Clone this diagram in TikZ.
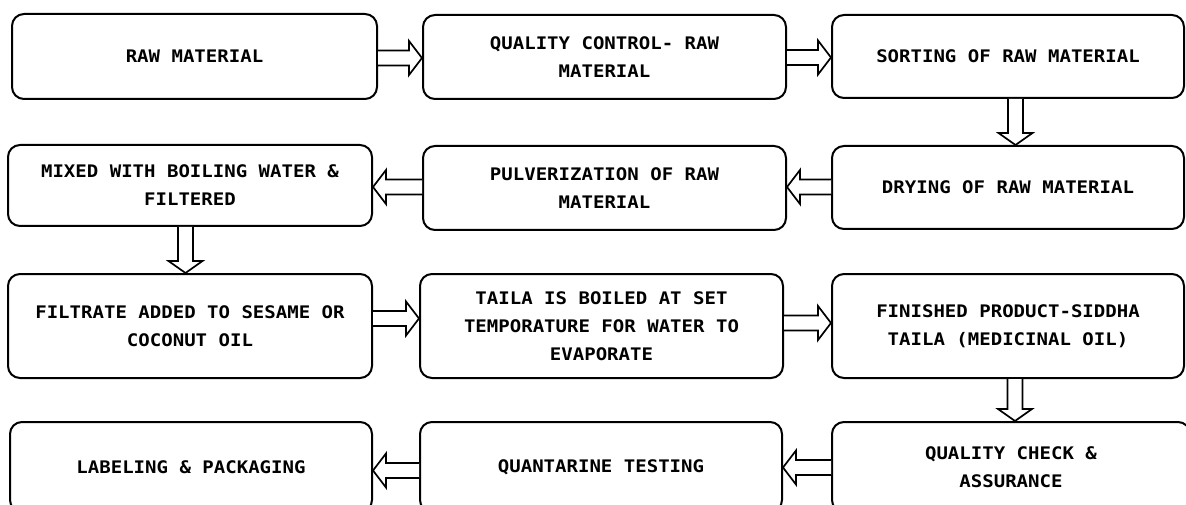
\documentclass[tikz,border=0pt]{standalone}
\usepackage{fontspec}
\newfontfamily\boxfont{DejaVu Sans Mono}[FakeStretch=1.1]
\usetikzlibrary{calc}
\tikzset{
  box/.style={draw=black, line width=2pt, rounded corners=12pt, fill=white,
    align=center, inner sep=0pt,
    font=\boxfont\bfseries\fontsize{17.3}{28}\selectfont},
  blk/.style={draw=black, fill=white, line width=1.7pt, line join=miter}
}
% horizontal block arrow: from anchor, to anchor, y, direction (+1 right, -1 left)
\newcommand{\harr}[4]{%
  \coordinate (tmpy) at (0,#3);
  \path (#1 |- tmpy) coordinate (S) (#2 |- tmpy) coordinate (T);
  \draw[blk] ($(S)+(0,-7.5)$) -- ($(T)+({-13*#4},-7.5)$) -- ($(T)+({-13*#4},-17)$)
    -- (T) -- ($(T)+({-13*#4},17)$) -- ($(T)+({-13*#4},7.5)$) -- ($(S)+(0,7.5)$);}
% vertical block arrow (downwards): from node, to node, x
\newcommand{\varr}[3]{%
  \coordinate (tmpx) at (#3,0);
  \path (tmpx |- #1.south) coordinate (S) (tmpx |- #2.north) coordinate (T);
  \draw[blk] ($(S)+(-7.5,0)$) -- ($(T)+(-7.5,-12)$) -- ($(T)+(-17,-12)$)
    -- (T) -- ($(T)+(17,-12)$) -- ($(T)+(7.5,-12)$) -- ($(S)+(7.5,0)$);}
\begin{document}
\begin{tikzpicture}[x=1pt,y=-1pt]
\useasboundingbox (0,0) rectangle (1186,505);
\clip (0,0) rectangle (1186,505);
% row 1
\node[box, minimum width=365pt, minimum height=85pt] (n1) at (194.5,56.5) {RAW MATERIAL};
\node[box, minimum width=363pt, minimum height=84pt] (n2) at (604.5,57) {QUALITY CONTROL- RAW\\MATERIAL};
\node[box, minimum width=352pt, minimum height=83pt] (n3) at (1008,56.5) {SORTING OF RAW MATERIAL};
% row 2
\node[box, minimum width=352pt, minimum height=83pt] (n4) at (1008,187.5) {DRYING OF RAW MATERIAL};
\node[box, minimum width=363pt, minimum height=84pt] (n5) at (604.5,188) {PULVERIZATION OF RAW\\MATERIAL};
\node[box, minimum width=364pt, minimum height=81pt] (n6) at (190,185.5) {MIXED WITH BOILING WATER \&\\FILTERED};
% row 3
\node[box, minimum width=364pt, minimum height=104pt] (n7) at (190,326) {FILTRATE ADDED TO SESAME OR\\COCONUT OIL};
\node[box, minimum width=363pt, minimum height=104pt] (n8) at (601.5,326) {TAILA IS BOILED AT SET\\TEMPORATURE FOR WATER TO\\EVAPORATE};
\node[box, minimum width=352pt, minimum height=104pt] (n9) at (1008,326) {FINISHED PRODUCT-SIDDHA\\TAILA (MEDICINAL OIL)};
% row 4
\node[box, minimum width=358pt, minimum height=90pt] (n10) at (1011,467) {\fontsize{17.3}{24}\selectfont QUALITY CHECK \&\\ASSURANCE};
\node[box, minimum width=362pt, minimum height=90pt] (n11) at (601,467) {QUANTARINE TESTING};
\node[box, minimum width=362pt, minimum height=90pt] (n12) at (191,467) {LABELING \& PACKAGING};
% connectors
\harr{n1.east}{n2.west}{58}{1}
\harr{n2.east}{n3.west}{57.5}{1}
\varr{n3}{n4}{1015.5}
\harr{n4.west}{n5.east}{187}{-1}
\harr{n5.west}{n6.east}{187}{-1}
\varr{n6}{n7}{185.5}
\harr{n7.east}{n8.west}{318.5}{1}
\harr{n8.east}{n9.west}{323}{1}
\varr{n9}{n10}{1015}
\harr{n10.west}{n11.east}{467.5}{-1}
\harr{n11.west}{n12.east}{470.5}{-1}
\end{tikzpicture}
\end{document}
